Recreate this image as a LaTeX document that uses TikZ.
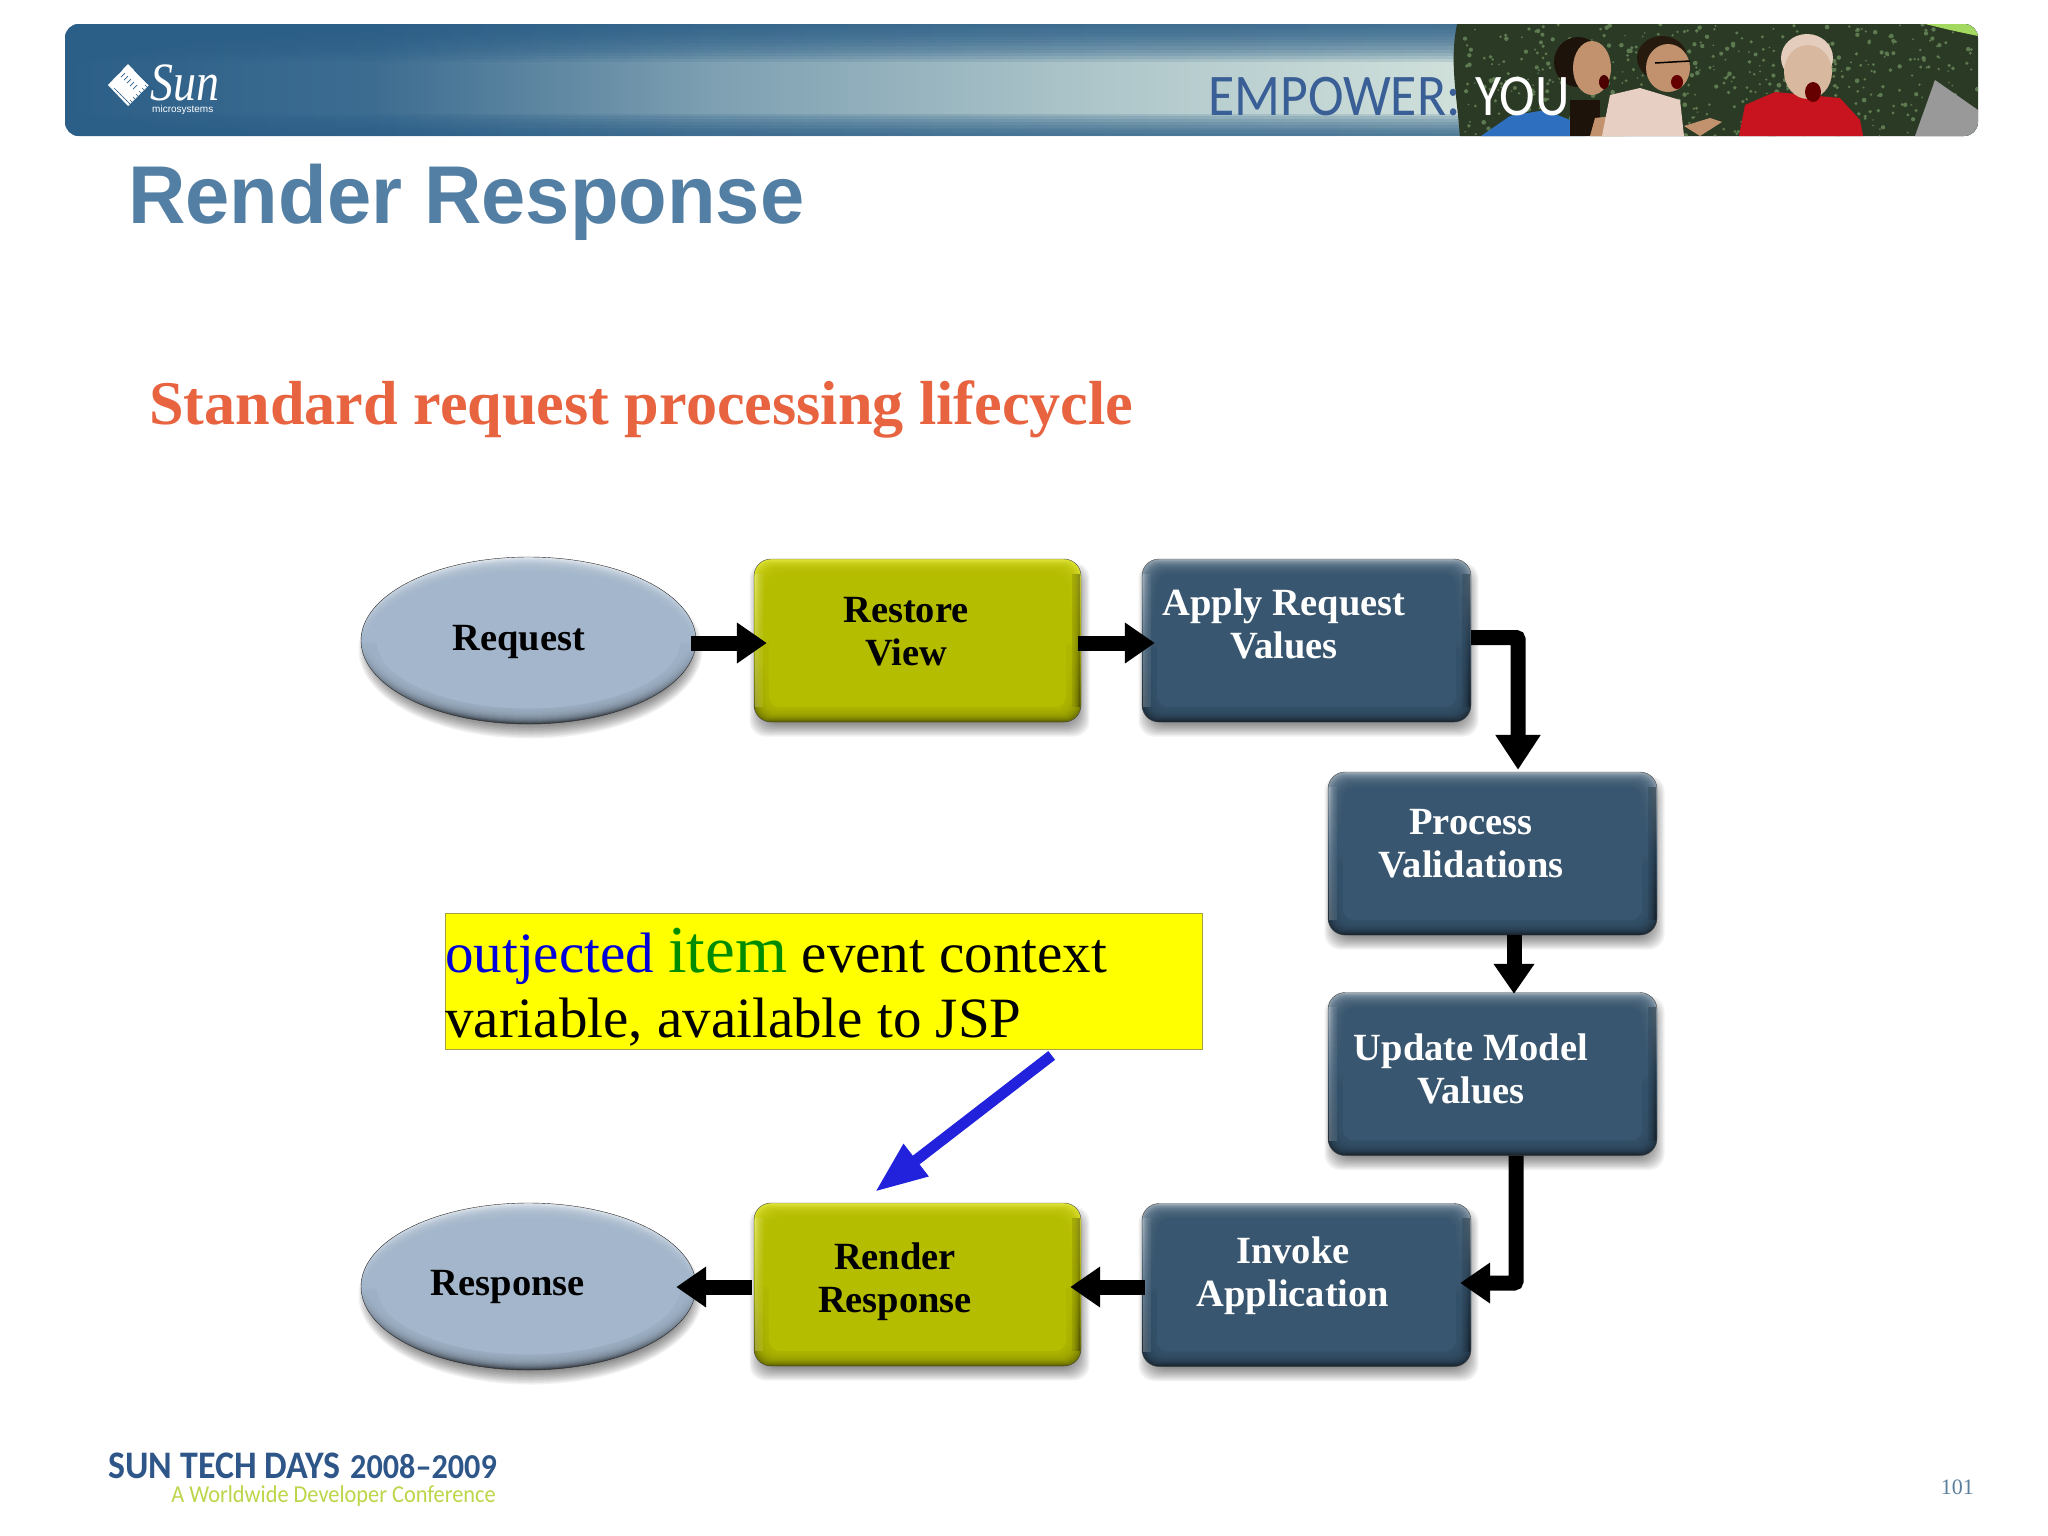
\documentclass[tikz,border=0pt]{standalone}
\usepackage{fontspec}
\setmainfont{Liberation Serif}
\newfontfamily\arialfont{Liberation Sans}
\newfontfamily\titlefont[FakeStretch=0.97]{Liberation Sans}
\newfontfamily\bannerfont[FakeStretch=0.91]{Carlito}
\newfontfamily\footerfont[FakeStretch=0.92]{Carlito}
\newfontfamily\sunfont[FakeStretch=0.85]{Liberation Serif}
\usepackage{tikz}
\usetikzlibrary{
  shapes.geometric
  , arrows.meta
}
\definecolor{TitleBlue}{HTML}{527FA3}
\definecolor{SubtitleRed}{HTML}{E8633F}
\definecolor{BannerBlue}{HTML}{2C5F88}
\definecolor{BannerMid}{HTML}{7EA0B2}
\definecolor{BannerSoft}{HTML}{AEC6CA}
\definecolor{BannerPale}{HTML}{D2E2DC}
\definecolor{OliveFace}{HTML}{B5BD00}
\definecolor{SlateFace}{HTML}{38566F}
\definecolor{OvalFace}{HTML}{A3B6CB}
\definecolor{ArrowBlue}{HTML}{2222DD}
\definecolor{NoteYellow}{RGB}{255,255,0}
\definecolor{FooterBlue}{HTML}{2F5688}
\definecolor{FooterGreen}{HTML}{BCD64A}
\definecolor{EmpowerBlue}{HTML}{3A5F96}
\definecolor{HedgeDark}{HTML}{2B3A25}
\definecolor{HedgeLeaf}{HTML}{5D7A50}
\definecolor{SkinTone}{HTML}{C2926E}
\definecolor{PaleSkin}{HTML}{D9B8A0}
\definecolor{PinkShirt}{HTML}{E8CFC4}
\definecolor{RedShirt}{HTML}{C8141E}
\definecolor{BlueShirt}{HTML}{2F6FC0}
\pgfdeclarehorizontalshading{bannerglow}{100bp}{
  color(0bp)=(BannerBlue);
  color(25bp)=(BannerBlue);
  color(33bp)=(BannerBlue!80!BannerMid);
  color(42bp)=(BannerMid);
  color(52bp)=(BannerSoft);
  color(62bp)=(BannerPale);
  color(100bp)=(BannerPale)
}
\tikzset{
  phasebox/.style={
    rectangle, draw=black!75, rounded corners=17pt,
    minimum width=329pt, minimum height=163pt, inner sep=0pt,
  },
  olivebox/.style={phasebox, minimum width=327pt, top color=OliveFace!45!yellow!75!white, bottom color=OliveFace!50!black, middle color=OliveFace},
  slatebox/.style={phasebox, top color=SlateFace!45!white, bottom color=SlateFace!40!black, middle color=SlateFace},
  endoval/.style={
    ellipse, draw=black!85, minimum width=335pt, minimum height=167pt, inner sep=0pt,
    top color=OvalFace!30!white, bottom color=OvalFace!35!black, middle color=OvalFace,
  },
  phasetext/.style={font=\bfseries\fontsize{38.5}{43}\selectfont, align=center, inner sep=0pt},
  flowarrow/.style={line width=15pt, black, rounded corners=2pt, -{Triangle[length=30pt,width=39pt]}},
}
\newcommand{\bevelBox}[2]{
  \fill[white,opacity=.3] ([shift={(1,15)}]#1.north west) rectangle ([shift={(9,-15)}]#1.south west);
  \fill[black,opacity=.4] ([shift={(-1,15)}]#1.north east) rectangle ([shift={(-9,-15)}]#1.south east);
  \foreach \i in {1,...,14}{
    \fill[#2,opacity=.16,rounded corners=14pt]
    ([shift={(\i,\i)}]#1.north west) rectangle ([shift={(-\i,-\i)}]#1.south east);
  }
  \fill[#2,rounded corners=12pt] ([shift={(15,15)}]#1.north west) rectangle ([shift={(-15,-15)}]#1.south east);
}
\newcommand{\bevelOval}[2]{
  \foreach \i in {1,...,14}{
    \fill[#2,opacity=.16] (#1.center) ellipse [x radius=167.5-\i, y radius=83.5-\i];
  }
  \fill[#2] (#1.center) ellipse [x radius=152, y radius=68];
}
\newcommand{\shadowBox}[2]{
  \foreach \i in {0,...,9}{
    \fill[black,opacity=.055,rounded corners=16pt]
    (#1+2-170+1.5*\i,#2+9-87+1.5*\i) rectangle (#1+2+170-1.5*\i,#2+9+87-1.5*\i);
  }
}
\newcommand{\shadowOval}[2]{
  \foreach \i in {0,...,9}{
    \fill[black,opacity=.055] (#1+2,#2+9) ellipse [x radius=172-1.5*\i, y radius=89-1.5*\i];
  }
}

\begin{document}
\begin{tikzpicture}[x=1pt,y=-1pt]
  \useasboundingbox[fill=white] (0,0) rectangle (2048,1535);

  % banner
  \begin{scope}
    \clip[rounded corners=14pt] (65,24) rectangle (1978,136);
    \shade[shading=bannerglow] (65,24) rectangle (1978,136);
    \foreach \i in {1,...,12}{
      \fill[BannerBlue,opacity=.14] (65,24) rectangle (1978,24+3.2*\i);
    }
    \foreach \i in {1,...,8}{
      \fill[BannerBlue,opacity=.16] (65,136-2.8*\i) rectangle (1978,136);
    }
    % photo
    \fill[HedgeDark] (1458,20) .. controls (1448,60) and (1458,100) .. (1460,140) -- (1985,140) -- (1985,20) -- cycle;
    \pgfmathsetseed{7}
    \foreach \n in {1,...,520}{
      \pgfmathsetmacro{\px}{1465+rnd*513}
      \pgfmathsetmacro{\py}{24+rnd*112}
      \pgfmathsetmacro{\pr}{.8+rnd*1.6}
      \fill[HedgeLeaf] (\px,\py) circle (\pr);
    }
    \fill[green!45!yellow!55!white!85!black] (1925,24) -- (1978,24) -- (1978,36) -- (1950,30) -- cycle;
    % left man
    \fill[BlueShirt] (1481,136) -- (1510,116) -- (1545,110) -- (1570,120) -- (1585,136) -- cycle;
    \fill[black!85!brown] (1570,100) rectangle (1600,136);
    \fill[SkinTone] (1590,136) -- (1595,118) -- (1630,114) -- (1640,124) -- (1625,136) -- cycle;
    \fill[black!85!brown] (1578,62) ellipse [x radius=24, y radius=25];
    \fill[SkinTone] (1592,68) ellipse [x radius=19, y radius=27];
    \fill[black!70!red] (1604,82) ellipse [x radius=5, y radius=7];
    % middle man
    \fill[PinkShirt] (1602,136) -- (1610,95) -- (1640,88) -- (1680,100) -- (1684,136) -- cycle;
    \fill[black!80!brown] (1662,58) ellipse [x radius=25, y radius=22];
    \fill[SkinTone] (1668,68) ellipse [x radius=22, y radius=24];
    \draw[black, line width=1.5pt] (1655,63) -- (1690,61);
    \fill[black!60!red] (1677,82) ellipse [x radius=6, y radius=7];
    \fill[SkinTone] (1684,126) -- (1710,118) -- (1722,122) -- (1700,136) -- cycle;
    % right man
    \fill[RedShirt] (1739,136) -- (1745,105) -- (1775,92) -- (1840,98) -- (1860,120) -- (1863,136) -- cycle;
    \fill[PaleSkin!70!white] (1807,58) ellipse [x radius=26, y radius=24];
    \fill[PaleSkin] (1808,72) ellipse [x radius=24, y radius=27];
    \fill[black!60!red] (1813,92) ellipse [x radius=8, y radius=10];
    % laptop
    \fill[black!40] (1915,136) -- (1935,80) -- (1978,110) -- (1978,136) -- cycle;
  \end{scope}

  % logo
  \fill[white] (128,64) -- (149,85) -- (128,106) -- (108,85) -- cycle;
  \foreach \d in {0,...,5}{
    \draw[BannerBlue, line width=.7pt] (118+3*\d,74+3*\d) -- (122+3*\d,70+3*\d);
    \draw[BannerBlue, line width=.7pt] (134+3*\d,70+3*\d) -- (140+3*\d,76+3*\d);
    \draw[BannerBlue, line width=.7pt] (114+3*\d,88+3*\d) -- (118+3*\d,92+3*\d);
    \draw[BannerBlue, line width=.7pt] (130+3*\d,100-3*\d) -- (134+3*\d,104-3*\d);
  }
  \node[anchor=base west, inner sep=0pt, white, font=\sunfont\itshape\fontsize{54}{54}\selectfont] (SunMark) at (150,100) {Sun};
  \node[anchor=base west, inner sep=0pt, white, font=\arialfont\fontsize{10}{10}\selectfont] (SunSub) at (152,112) {microsystems};
  \node[anchor=base west, inner sep=0pt, font=\bannerfont\fontsize{59}{59}\selectfont, text=EmpowerBlue] (EmpowerText) at (1208,115) {EMPOWER:};
  \node[anchor=base west, inner sep=0pt, font=\bannerfont\fontsize{59}{59}\selectfont, text=white] (YouText) at (1475,115) {YOU};

  % headings
  \node[anchor=base west, inner sep=0pt, text=TitleBlue, font=\titlefont\bfseries\fontsize{82}{90}\selectfont] (SlideTitle) at (128,223) {Render Response};
  \node[anchor=base west, inner sep=0pt, text=SubtitleRed, font=\bfseries\fontsize{62.2}{70}\selectfont] (SlideSubtitle) at (149,424) {Standard request processing lifecycle};

  % lifecycle
  \shadowOval{528.5}{640.5}
  \node[endoval] (RequestOval) at (528.5,640.5) {};
  \bevelOval{RequestOval}{OvalFace}
  \shadowBox{917.5}{640.5}
  \node[olivebox] (RestoreBox) at (917.5,640.5) {};
  \bevelBox{RestoreBox}{OliveFace}
  \shadowBox{1306.5}{640.5}
  \node[slatebox] (ApplyBox) at (1306.5,640.5) {};
  \bevelBox{ApplyBox}{SlateFace}
  \shadowBox{1492.5}{853.5}
  \node[slatebox] (ProcessBox) at (1492.5,853.5) {};
  \bevelBox{ProcessBox}{SlateFace}
  \shadowBox{1492.5}{1074}
  \node[slatebox] (UpdateBox) at (1492.5,1074) {};
  \bevelBox{UpdateBox}{SlateFace}
  \shadowBox{1306.5}{1285}
  \node[slatebox] (InvokeBox) at (1306.5,1285) {};
  \bevelBox{InvokeBox}{SlateFace}
  \shadowBox{917.5}{1284.5}
  \node[olivebox] (RenderBox) at (917.5,1284.5) {};
  \bevelBox{RenderBox}{OliveFace}
  \shadowOval{528.5}{1286.5}
  \node[endoval] (ResponseOval) at (528.5,1286.5) {};
  \bevelOval{ResponseOval}{OvalFace}

  \node[phasetext] (RequestText) at (519,642) {Request};
  \node[phasetext] (RestoreText) at (906,632) {Restore\\View};
  \node[phasetext, text=white] (ApplyText) at (1284,624) {Apply Request\\Values};
  \node[phasetext, text=white] (ProcessText) at (1471,844) {Process\\Validations};
  \node[phasetext, text=white] (UpdateText) at (1471,1069) {Update Model\\Values};
  \node[phasetext, text=white] (InvokeText) at (1293,1276) {Invoke\\Application};
  \node[phasetext] (RenderText) at (895,1282) {Render\\Response};
  \node[phasetext] (ResponseText) at (508,1287) {Response};

  \draw[flowarrow] ([shift={(-5,2.5)}]RequestOval.east) -- ([shift={(13,2.5)}]RestoreBox.west);
  \draw[flowarrow] ([shift={(-3,2.5)}]RestoreBox.east) -- ([shift={(13,2.5)}]ApplyBox.west);
  \draw[flowarrow, -{Triangle[length=35pt,width=43pt]}] ([shift={(0,-3)}]ApplyBox.east) -| ([shift={(25.5,-2)}]ProcessBox.north);
  \draw[flowarrow] ([shift={(21.5,0)}]ProcessBox.south) -- ([shift={(21.5,1.5)}]UpdateBox.north);
  \draw[flowarrow] ([shift={(23.5,0)}]UpdateBox.south) |- ([shift={(-11,-2)}]InvokeBox.east);
  \draw[flowarrow] ([shift={(3,2)}]InvokeBox.west) -- ([shift={(-11,2.5)}]RenderBox.east);
  \draw[flowarrow] ([shift={(-2,2.5)}]RenderBox.west) -- ([shift={(-20,0.5)}]ResponseOval.east);

  % note
  \node[draw=yellow!60!black, fill=NoteYellow, anchor=north west, inner sep=0pt,
    minimum width=757pt, minimum height=136pt] (NoteBox) at (445,913) {};
  \node[anchor=base west, inner sep=0pt, font=\fontsize{57}{65}\selectfont] (NoteLineA) at (445,972.5)
    {\textcolor{blue!85!black}{outjected} \textcolor{green!55!black}{\fontsize{67}{65}\selectfont item} event context};
  \node[anchor=base west, inner sep=0pt, font=\fontsize{57}{65}\selectfont] (NoteLineB) at (445,1037.5)
    {variable, available to JSP};
  \draw[ArrowBlue, line width=11pt, -{Triangle[length=52pt,width=38pt]}] ([shift={(228,6)}]NoteBox.south) -- ([shift={(-42.5,-11)}]RenderBox.north);

  % footer
  \node[anchor=base west, inner sep=0pt, text=FooterBlue, font=\footerfont\bfseries\fontsize{39}{39}\selectfont] (FooterName) at (108,1478) {SUN TECH DAYS};
  \node[anchor=base west, inner sep=0pt, text=FooterBlue, font=\footerfont\bfseries\fontsize{35}{35}\selectfont] (FooterYears) at (350,1478) {2008–2009};
  \node[anchor=base east, inner sep=0pt, text=FooterGreen, font=\footerfont\fontsize{24.3}{25}\selectfont] (FooterLine) at (496,1502) {A Worldwide Developer Conference};
  \node[anchor=base east, inner sep=0pt, text=TitleBlue!80!gray, font=\fontsize{22}{22}\selectfont] (PageNumber) at (1974,1494) {101};
\end{tikzpicture}
\end{document}
